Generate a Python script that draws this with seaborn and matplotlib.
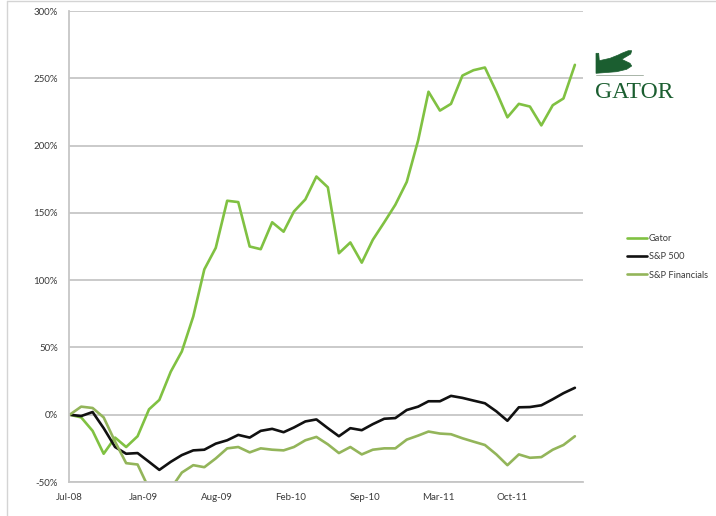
import numpy as np
import pandas as pd
import matplotlib
matplotlib.use("Agg")
import matplotlib.pyplot as plt
from matplotlib.patches import Polygon
from matplotlib.lines import Line2D
import seaborn as sns

# ---- data (monthly, starting Jul-2008) ----
start_date = "2008-07-01"
gator = [0, -2, -12, -29, -17, -24, -16, 4, 11, 32, 47, 73, 108, 124, 159, 158,
         125, 123, 143, 136, 151, 160, 177, 169, 120, 128, 113, 130, 143, 156,
         173, 204, 240, 226, 231, 252, 256, 258, 240, 221, 231, 229, 215, 230,
         235, 260]
sp500 = [0, -1, 2, -10, -24, -29, -28.5, -35, -41, -35, -30, -26.5, -26, -21.5,
         -19, -15, -17, -12, -10.5, -13, -9.5, -5, -3.5, -10, -16, -10, -11.5,
         -7, -3, -2.5, 3.5, 6, 10, 10, 14, 12.5, 10.5, 8.5, 2.5, -4.5, 5.5, 5.7,
         7, 11.5, 16, 20]
financials = [0, 6, 5, -2, -20, -36, -37, -55, -60, -55, -43, -37.5, -39, -32.5,
              -25, -24, -28, -25, -26, -26.5, -24, -19, -16.5, -22, -28.5, -24,
              -29.5, -26, -25, -25, -18.5, -15.5, -12.5, -14, -14.5, -17.5, -20,
              -22.5, -29.5, -37.5, -29.5, -32, -31.5, -26, -22.5, -16]
series_names = ["Gator", "S&P 500", "S&P Financials"]
y_ticks = [-50, 0, 50, 100, 150, 200, 250, 300]
y_tick_labels = ["-50%", "0%", "50%", "100%", "150%", "200%", "250%", "300%"]
x_tick_labels = ["Jul-08", "Jan-09", "Aug-09", "Feb-10", "Sep-10", "Mar-11", "Oct-11"]

dates = pd.date_range(start_date, periods=len(gator), freq="MS")
df = pd.DataFrame({
    "date": np.concatenate([dates, dates, dates]),
    "value": gator + sp500 + financials,
    "series": [series_names[0]] * len(gator) + [series_names[1]] * len(sp500)
              + [series_names[2]] * len(financials),
})

sns.set_theme(style="white")
plt.rcParams["font.family"] = ["Lato", "DejaVu Sans"]

W, H = 716, 516
fig = plt.figure(figsize=(W / 100, H / 100), dpi=100)
ax = fig.add_axes([69 / W, 1 - 482 / H, (583 - 69) / W, (482 - 11) / H])

palette = {"Gator": "#80c142", "S&P 500": "#111111", "S&P Financials": "#93b55a"}
sns.lineplot(data=df, x="date", y="value", hue="series", hue_order=series_names,
             palette=palette, linewidth=1.9, ax=ax, legend=True)

# axes
t0 = pd.Timestamp(start_date)
ax.set_xlim(t0 - pd.Timedelta(days=2), t0 + pd.Timedelta(days=1392))
ax.set_ylim(-50, 300)
ax.set_xticks([t0 + pd.Timedelta(days=200 * k) for k in range(len(x_tick_labels))])
ax.set_xticklabels(x_tick_labels)
ax.set_yticks(y_ticks)
ax.set_yticklabels(y_tick_labels)
ax.set_xlabel("")
ax.set_ylabel("")
ax.tick_params(axis="both", length=0, labelsize=7, labelcolor="#3a3a3a")
ax.tick_params(axis="y", pad=8)
ax.tick_params(axis="x", pad=8)
ax.grid(axis="y", color="#c6c6c6", linewidth=1.3)
ax.grid(axis="x", visible=False)
ax.set_axisbelow(True)
for s in ["top", "right"]:
    ax.spines[s].set_visible(False)
ax.spines["left"].set_color("#c6c6c6")
ax.spines["left"].set_linewidth(1.3)
ax.spines["bottom"].set_color("#c6c6c6")
ax.spines["bottom"].set_linewidth(1.3)

# legend
handles, labels = ax.get_legend_handles_labels()
ax.legend_.remove()
leg = fig.legend(handles, labels, loc="upper left",
                 bbox_to_anchor=(627 / W, 1 - 234 / H), frameon=False,
                 fontsize=6.7, handlelength=2.1, handletextpad=0.25,
                 labelspacing=1.0, borderpad=0, borderaxespad=0)
for t in leg.get_texts():
    t.set_color("#3a3a3a")
for h in leg.get_lines():
    h.set_linewidth(1.9)

# logo
def fp(x, y):
    return (x / W, 1 - y / H)

gator_shape = [(596, 53.3), (598.7, 53.3), (599.3, 60.7), (610, 58.3), (618.3, 55),
               (621.7, 53.3), (628.3, 50.7), (631.7, 50.7), (630.7, 54), (621.7, 59.3),
               (630, 63.3), (631.7, 66), (626.7, 69.3), (616.7, 71.7), (596, 73.3)]
fig.add_artist(Polygon([fp(x, y) for x, y in gator_shape], closed=True,
                       transform=fig.transFigure, facecolor="#1b5e30",
                       edgecolor="#1b5e30", linewidth=0.5))
fig.add_artist(Line2D([596 / W, 643 / W], [1 - 75 / H, 1 - 75 / H],
                      transform=fig.transFigure, color="#9aa89a", linewidth=0.6))
fig.text(595 / W, 1 - 98 / H, "GATOR", family=["Liberation Serif", "DejaVu Serif"],
         fontsize=17, color="#1b5e30", ha="left", va="baseline")

# faint frame of the screenshot
fig.add_artist(Line2D([7 / W, 7 / W], [0, 1 - 1 / H], transform=fig.transFigure,
                      color="#d4d4d4", linewidth=1.0))
fig.add_artist(Line2D([7 / W, 1], [1 - 1 / H, 1 - 1 / H], transform=fig.transFigure,
                      color="#d4d4d4", linewidth=1.0))

fig.savefig("out.png", dpi=100)
